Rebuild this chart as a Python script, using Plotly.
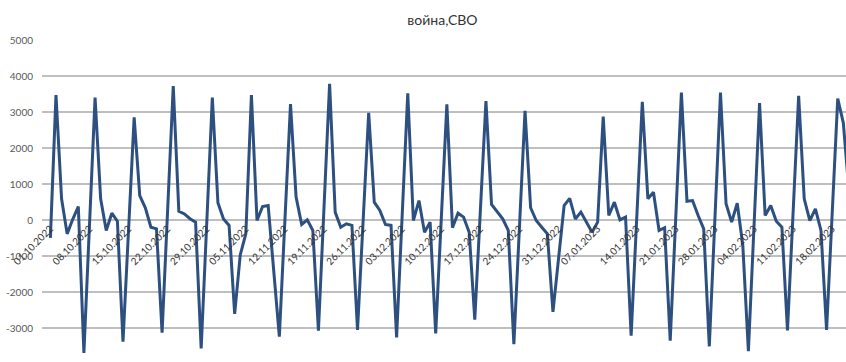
import pandas as pd
import plotly.graph_objects as go

# Daily series starting 01.10.2022
start_date = "2022-10-01"
values = [
    -495, 3470, 590, -385, 20, 375, -3690,
    -100, 3400, 590, -290, 190, -35, -3380,
    -260, 2850, 680, 340, -200, -245, -3130,
    200, 3720, 245, 170, 35, -60, -3570,
    -100, 3400, 480, 30, -150, -2610, -970,
    -380, 3470, -15, 375, 400, -1420, -3240,
    0, 3220, 635, -125, 5, -290, -3075,
    300, 3780, 220, -200, -105, -150, -3055,
    -50, 2980, 495, 265, -125, -150, -3260,
    100, 3520, -15, 540, -340, -60, -3150,
    0, 3210, -215, 190, 80, -340, -2770,
    300, 3300, 430, 220, 35, -290, -3450,
    -200, 3030, 340, -15, -200, -385, -2550,
    -1000, 400, 600, 30, 220, -60, -340,
    -60, 2870, 125, 495, 5, 80, -3210,
    0, 3280, 590, 770, -290, -215, -3350,
    100, 3540, 520, 540, 125, -245, -3510,
    0, 3540, 450, -60, 465, -700, -3645,
    -200, 3250, 125, 400, -35, -200, -3070,
    200, 3450, 590, -15, 310, -290, -3050,
    200, 3370, 2700, 800,
]
dates = pd.date_range(start_date, periods=len(values), freq="D")

# Weekly category labels
tick_labels = [
    "01.10.2022", "08.10.2022", "15.10.2022", "22.10.2022", "29.10.2022",
    "05.11.2022", "12.11.2022", "19.11.2022", "26.11.2022", "03.12.2022",
    "10.12.2022", "17.12.2022", "24.12.2022", "31.12.2022", "07.01.2023",
    "14.01.2023", "21.01.2023", "28.01.2023", "04.02.2023", "11.02.2023",
    "18.02.2023",
]
tick_dates = pd.to_datetime(tick_labels, format="%d.%m.%Y")

y_ticks = [-4000, -3000, -2000, -1000, 0, 1000, 2000, 3000, 4000, 5000]

Y_MIN, Y_MAX = -3944, 5000
x0 = pd.Timestamp(start_date) - pd.Timedelta(days=1.504)
x1 = pd.Timestamp(start_date) + pd.Timedelta(days=142.48)

fig = go.Figure(
    go.Scatter(
        x=dates,
        y=values,
        mode="lines",
        line=dict(color="#2D5080", width=3),
        hoverinfo="x+y",
    )
)

fig.update_layout(
    width=846,
    height=362,
    margin=dict(l=42, r=0, t=40, b=0),
    paper_bgcolor="white",
    plot_bgcolor="white",
    showlegend=False,
    title=dict(
        text="война,СВО",
        x=0.523,
        xanchor="center",
        y=0.945,
        yanchor="middle",
        font=dict(family="Lato", size=14, color="#333333"),
    ),
    xaxis=dict(
        type="date",
        range=[x0, x1],
        anchor="free",
        position=(0 - Y_MIN) / (Y_MAX - Y_MIN),
        tickmode="array",
        tickvals=tick_dates,
        ticktext=tick_labels,
        tickangle=-45,
        tickfont=dict(family="Lato", size=10, color="#333333"),
        showgrid=False,
        showline=False,
        zeroline=False,
        ticks="",
        layer="above traces",
    ),
    yaxis=dict(
        range=[Y_MIN, Y_MAX],
        tickmode="array",
        tickvals=y_ticks,
        ticktext=[str(v) for v in y_ticks],
        tickfont=dict(family="Lato", size=10, color="#595959"),
        showgrid=True,
        gridcolor="#BFBFBF",
        gridwidth=1.5,
        zeroline=False,
        showline=False,
        ticks="",
        ticklabelstandoff=8,
    ),
)

fig.write_html("out.html")
